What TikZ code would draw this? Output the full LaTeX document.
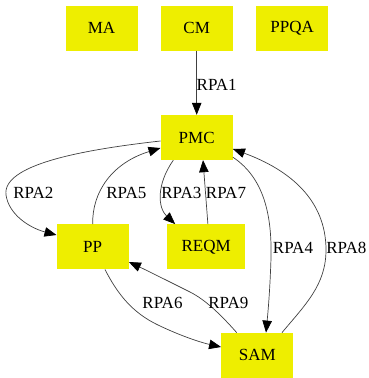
\documentclass[tikz,border=0pt]{standalone}
\usepackage{fontspec}
\setmainfont{Liberation Serif}
\usetikzlibrary{arrows.meta}
\definecolor{boxfill}{RGB}{238,238,0}
\begin{document}
\begin{tikzpicture}[x=1pt,y=-1pt,
  box/.style={rectangle, fill=boxfill, minimum width=72pt, minimum height=45pt,
    inner sep=0pt, font=\fontsize{17}{20}\selectfont},
  lbl/.style={inner sep=0pt, font=\fontsize{17}{20}\selectfont},
  link/.style={draw=black!75, line width=0.7pt,
    -{Triangle[length=12pt,width=9.5pt,fill=black,color=black]}}]
\useasboundingbox (0,0) rectangle (368,378);

% boxes
\node[box] (ma)   at (101.5,28)  {MA};
\node[box] (cm)   at (196.7,28)  {CM};
\node[box] (ppqa) at (292.2,28)  {PPQA};
\node[box] (pmc)  at (196.7,137.5) {PMC};
\node[box] (pp)   at (92.7,246.8) {PP};
\node[box, minimum width=78pt] (reqm) at (206.2,246.8) {REQM};
\node[box] (sam)  at (257.3,355.3) {SAM};

% connectors
\draw[link] (cm.south) -- (pmc.north);
\draw[link] ([yshift=-3.5pt]pmc.west)
  .. controls (80,150) and (2,165) .. (6,195)
  .. controls (9,215) and (30,228) .. ([yshift=11.8pt]pp.west);
\draw[link] (pp.north)
  .. controls (92,192) and (112,163) .. ([yshift=-10.5pt]pmc.west);
\draw[link] ([xshift=-23.4pt]pmc.south)
  .. controls (156,185) and (158,208) .. ([xshift=-31pt]reqm.north);
\draw[link] ([xshift=1.7pt]reqm.north) -- ([xshift=6.3pt]pmc.south);
\draw[link] ([yshift=3pt]pmc.south east)
  .. controls (264,178) and (272,215) .. (271,258)
  .. controls (270,290) and (268,312) .. ([xshift=8.7pt]sam.north);
\draw[link] ([xshift=24.7pt]sam.north)
  .. controls (305,305) and (326,285) .. (326,250)
  .. controls (326,200) and (290,170) .. ([yshift=-11.5pt]pmc.east);
\draw[link] ([xshift=12.3pt]pp.south)
  .. controls (118,295) and (133,313) .. (158,325)
  .. controls (183,337) and (203,343) .. ([yshift=8.3pt]sam.west);
\draw[link] ([xshift=-20.6pt]sam.north)
  .. controls (222,316) and (206,300) .. (190,292)
  .. controls (166,280) and (146,270) .. ([yshift=-15.2pt]pp.east);

% connector labels
\node[lbl] (l1) at (216.7,84.5) {RPA1};
\node[lbl] (l2) at (33.3,192.5) {RPA2};
\node[lbl] (l5) at (126.3,192.5) {RPA5};
\node[lbl] (l3) at (181.3,192.5) {RPA3};
\node[lbl] (l7) at (226.0,192.5) {RPA7};
\node[lbl] (l4) at (293.0,248.3) {RPA4};
\node[lbl] (l8) at (346.3,248.3) {RPA8};
\node[lbl] (l6) at (162.5,303.3) {RPA6};
\node[lbl] (l9) at (228.3,303.3) {RPA9};
\end{tikzpicture}
\end{document}
